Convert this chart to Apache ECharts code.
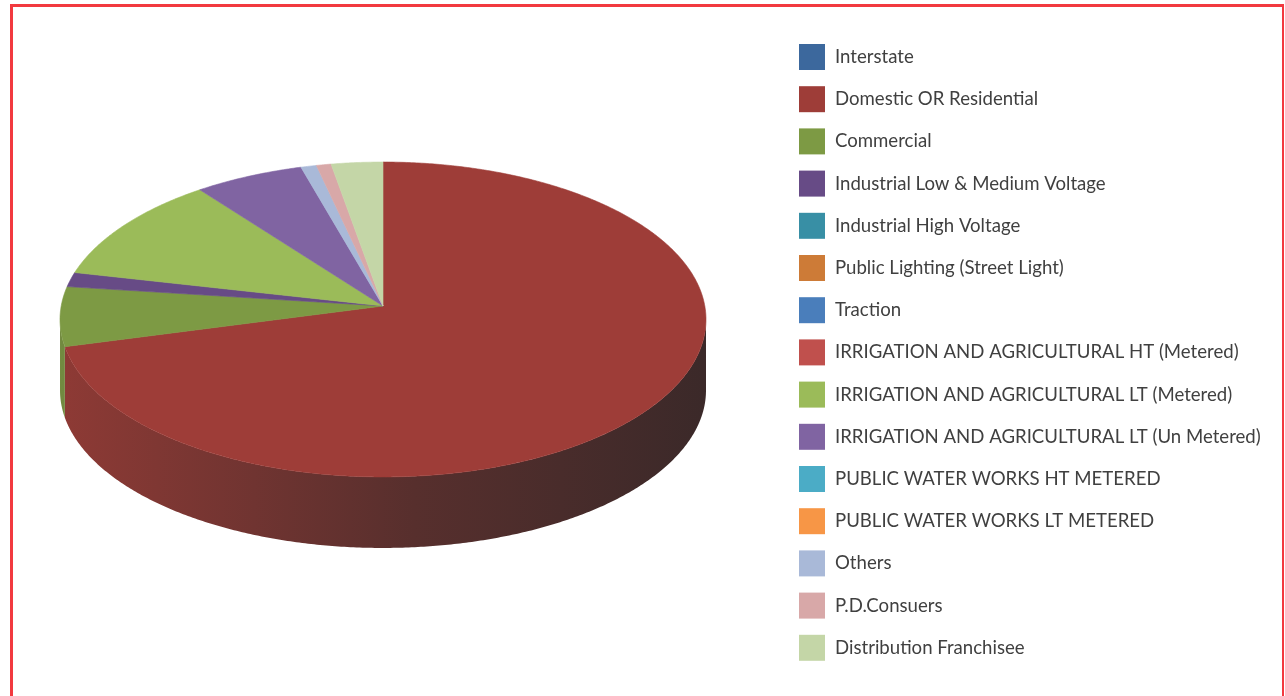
<!DOCTYPE html>
<html>
<head>
<meta charset="utf-8">
<title>Consumer category share</title>
<script src="https://cdn.jsdelivr.net/npm/echarts@6/dist/echarts.min.js"></script>
<style>
  html, body { margin: 0; padding: 0; background: #ffffff; }
  #frame {
    position: absolute; left: 10px; top: 4px; width: 1269px; height: 760px;
    border-left: 3px solid #f2393f; border-top: 3px solid #f2393f; border-right: 2px solid #f2393f;
  }
  #chart { position: absolute; left: 0; top: 0; width: 1285px; height: 696px; }
</style>
</head>
<body>
<div id="frame"></div>
<div id="chart"></div>
<script>
// Consumer categories, in slice order (clockwise from 12 o'clock)
const categories = [
  'Interstate',
  'Domestic OR Residential',
  'Commercial',
  'Industrial Low & Medium Voltage',
  'Industrial High Voltage',
  'Public Lighting (Street Light)',
  'Traction',
  'IRRIGATION AND AGRICULTURAL HT (Metered)',
  'IRRIGATION AND AGRICULTURAL LT (Metered)',
  'IRRIGATION AND AGRICULTURAL LT (Un Metered)',
  'PUBLIC WATER WORKS HT METERED',
  'PUBLIC WATER WORKS LT METERED',
  'Others',
  'P.D.Consuers',
  'Distribution Franchisee'
];

// Share of each category (%)
const shares = [0, 70.9, 6.1, 1.5, 0, 0, 0, 0, 11.1, 5.95, 0, 0, 0.85, 0.8, 2.8];

// Slice colours
const colors = [
  '#3c689d', '#9e3d38', '#7d9a44', '#674b86', '#388fa5', '#cd7b37', '#4a7ebb',
  '#c0504d', '#9bbb59', '#8064a2', '#4bacc6', '#f79646', '#a9b9d8', '#d8a8a8', '#c4d6a7'
];

// Tilted disc seen in perspective: (ax, ay) is the projected centre,
// a / b the half-axes and e the foreshortening of the far half.
const geo = { ax: 383, ay: 306, a: 321.8, b: 156.3, e: 0.0857, depth: 71 };
const silhouette = Math.acos(-geo.e); // where the front wall starts / ends

const total = shares.reduce((s, v) => s + v, 0);
const starts = [];
let acc = 0;
shares.forEach(v => { starts.push(acc); acc += v; });

function rim(t, dy) {
  const u = 1 + geo.e * Math.cos(t);
  return [geo.ax + geo.a * Math.sin(t) / u, geo.ay - geo.b * Math.cos(t) / u + dy];
}
function arc(t0, t1, dy) {
  const n = Math.max(2, Math.ceil((t1 - t0) / (Math.PI / 360)));
  const pts = [];
  for (let i = 0; i <= n; i++) pts.push(rim(t0 + (t1 - t0) * i / n, dy));
  return pts;
}
function hexToRgb(h) {
  const n = parseInt(h.slice(1), 16);
  return [(n >> 16) & 255, (n >> 8) & 255, n & 255];
}
function mix(c, k) {
  const a = hexToRgb(c), d = [43, 38, 38];
  return 'rgb(' + a.map((x, i) => Math.round(x * (1 - k) + d[i] * k)).join(',') + ')';
}
function sideFill(c) {
  const left = rim(2 * Math.PI - silhouette, 0)[0], right = rim(silhouette, 0)[0];
  return new echarts.graphic.LinearGradient(left, 0, right, 0, [
    { offset: 0, color: mix(c, 0.14) },
    { offset: 0.3, color: mix(c, 0.4) },
    { offset: 0.55, color: mix(c, 0.62) },
    { offset: 1, color: mix(c, 0.86) }
  ], true);
}

function renderSlice(params, api) {
  const i = params.dataIndex;
  const v = api.value(0);
  if (!(v > 0)) return null;
  const t0 = starts[i] / total * 2 * Math.PI;
  const t1 = (starts[i] + v) / total * 2 * Math.PI;
  const children = [];
  // front wall, between the two silhouette points
  const f0 = Math.max(t0, silhouette), f1 = Math.min(t1, 2 * Math.PI - silhouette);
  if (f1 > f0) {
    const upper = arc(f0, f1, 0);
    const lower = arc(f0, f1, geo.depth).reverse();
    children.push({
      type: 'polygon',
      shape: { points: upper.concat(lower) },
      style: { fill: sideFill(colors[i]), stroke: null }
    });
  }
  // top face
  const face = [[geo.ax, geo.ay]].concat(arc(t0, t1, 0));
  children.push({
    type: 'polygon',
    shape: { points: face },
    style: { fill: colors[i], stroke: colors[i], lineWidth: 0.6 }
  });
  return { type: 'group', children };
}

const chart = echarts.init(document.getElementById('chart'), null, { renderer: 'canvas' });
chart.setOption({
  animation: false,
  backgroundColor: 'transparent',
  legend: {
    orient: 'vertical',
    left: 799,
    top: 44,
    padding: 0,
    icon: 'rect',
    itemWidth: 26,
    itemHeight: 26,
    itemGap: 16.2,
    selectedMode: false,
    data: categories,
    textStyle: { fontFamily: 'Lato', fontSize: 18.6, color: '#404040', padding: [0, 0, 0, 5] }
  },
  series: [
    {
      // carries the category names and colours for the legend
      type: 'pie',
      radius: [0, 0],
      center: [geo.ax, geo.ay],
      silent: true,
      label: { show: false },
      labelLine: { show: false },
      data: categories.map((n, i) => ({ name: n, value: shares[i], itemStyle: { color: colors[i] } }))
    },
    {
      type: 'custom',
      coordinateSystem: 'none',
      silent: true,
      renderItem: renderSlice,
      data: shares
    }
  ]
});
</script>
</body>
</html>
